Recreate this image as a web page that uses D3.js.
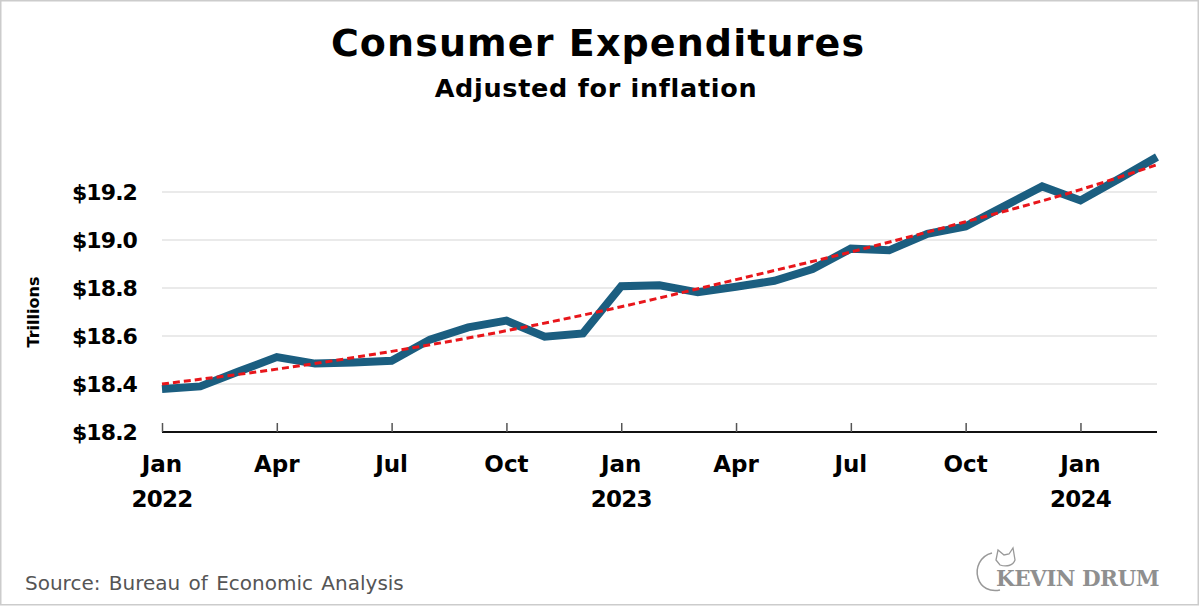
<!DOCTYPE html>
<html><head><meta charset="utf-8">
<script src="https://cdn.jsdelivr.net/npm/d3@7"></script>
<style>
html,body{margin:0;padding:0;background:#fff;}
svg{display:block;}
</style>
</head><body>
<svg id="chart" width="1200" height="606"></svg>
<script>
const months = ["Jan 2022","Feb 2022","Mar 2022","Apr 2022","May 2022","Jun 2022","Jul 2022","Aug 2022","Sep 2022","Oct 2022","Nov 2022","Dec 2022",
"Jan 2023","Feb 2023","Mar 2023","Apr 2023","May 2023","Jun 2023","Jul 2023","Aug 2023","Sep 2023","Oct 2023","Nov 2023","Dec 2023",
"Jan 2024","Feb 2024","Mar 2024"];
const spending = [18.379,18.390,18.452,18.512,18.485,18.490,18.497,18.585,18.636,18.664,18.597,18.611,
18.807,18.811,18.782,18.805,18.830,18.879,18.964,18.957,19.026,19.057,19.140,19.223,
19.165,19.254,19.346];
const trendMonths = ["Jan 2022","Apr 2022","Jul 2022","Oct 2022","Jan 2023","Apr 2023","Jul 2023","Oct 2023","Jan 2024","Mar 2024"];
const trendValues = [18.400,18.462,18.536,18.622,18.722,18.835,18.950,19.076,19.210,19.314];
const yTicks = [18.2,18.4,18.6,18.8,19.0,19.2];
const xTickMonths = ["Jan 2022","Apr 2022","Jul 2022","Oct 2022","Jan 2023","Apr 2023","Jul 2023","Oct 2023","Jan 2024"];
const xTickLabels = ["Jan","Apr","Jul","Oct","Jan","Apr","Jul","Oct","Jan"];
const yearLabels = ["2022","","","","2023","","","","2024"];

const svg = d3.select("#chart");
const W = 1200, H = 606;
const FONT = "'DejaVu Sans', Verdana, sans-serif";

// border
svg.append("rect").attr("x",0.75).attr("y",0.75).attr("width",W-2.5).attr("height",H-2)
  .attr("fill","#fff").attr("stroke","#cccccc").attr("stroke-width",1.5);

const x = d3.scalePoint().domain(months).range([162,1157]);
const y = d3.scaleLinear().domain([18.2,19.4]).range([432,144]);

// gridlines
svg.append("g").selectAll("line").data(yTicks.slice(1)).join("line")
  .attr("x1",162).attr("x2",1157)
  .attr("y1",d=>y(d)).attr("y2",d=>y(d))
  .attr("stroke","#e3e3e3").attr("stroke-width",1.5);

// y labels
svg.append("g").selectAll("text").data(yTicks).join("text")
  .attr("x",137).attr("y",d=>y(d)+8)
  .attr("text-anchor","end")
  .attr("font-family",FONT).attr("font-weight",700)
  .attr("font-size",22).attr("letter-spacing",-0.9).attr("fill","#000")
  .text(d=>"$"+d.toFixed(1));

// y axis title
svg.append("text")
  .attr("transform","translate(39,312) rotate(-90)")
  .attr("text-anchor","middle")
  .attr("font-family",FONT).attr("font-weight",700)
  .attr("font-size",16).attr("fill","#000")
  .text("Trillions");

// x axis
const xAxis = d3.axisBottom(x).tickValues(xTickMonths).tickSize(-9).tickFormat("");
const gx = svg.append("g").attr("transform","translate(0,432)").call(xAxis);
gx.select(".domain").attr("stroke","#111").attr("stroke-width",2).attr("d","M162,0H1157");
gx.selectAll(".tick line").attr("stroke","#555").attr("stroke-width",1.5);

svg.append("g").selectAll("text").data(xTickMonths).join("text")
  .attr("x",d=>x(d)).attr("y",472)
  .attr("text-anchor","middle")
  .attr("font-family",FONT).attr("font-weight",700)
  .attr("font-size",23).attr("fill","#000")
  .text((d,i)=>xTickLabels[i]);
svg.append("g").selectAll("text").data(xTickMonths).join("text")
  .attr("x",d=>x(d)).attr("y",507)
  .attr("text-anchor","middle")
  .attr("font-family",FONT).attr("font-weight",700)
  .attr("font-size",23).attr("letter-spacing",-0.8).attr("fill","#000")
  .text((d,i)=>yearLabels[i]);

// data line
const line = d3.line().x(d=>x(d[0])).y(d=>y(d[1]));
svg.append("path")
  .datum(months.map((m,i)=>[m,spending[i]]))
  .attr("d",line)
  .attr("fill","none").attr("stroke","#1b5e80").attr("stroke-width",8)
  .attr("stroke-linejoin","miter");

// trend line
const trendLine = d3.line().x(d=>x(d[0])).y(d=>y(d[1])).curve(d3.curveMonotoneX);
svg.append("path")
  .datum(trendMonths.map((m,i)=>[m,trendValues[i]]))
  .attr("d",trendLine)
  .attr("fill","none").attr("stroke","#e8161b").attr("stroke-width",3)
  .attr("stroke-dasharray","7,4");

// titles
svg.append("text").attr("x",598).attr("y",56).attr("text-anchor","middle")
  .attr("font-family",FONT).attr("font-weight",700)
  .attr("font-size",38).attr("letter-spacing",1.1).attr("fill","#000").text("Consumer Expenditures");
svg.append("text").attr("x",596).attr("y",97).attr("text-anchor","middle")
  .attr("font-family",FONT).attr("font-weight",700)
  .attr("font-size",25.5).attr("letter-spacing",0.7).attr("fill","#000").text("Adjusted for inflation");

// source
svg.append("text").attr("x",25).attr("y",590)
  .attr("font-family",FONT)
  .attr("font-size",20).attr("fill","#555").attr("word-spacing",2)
  .text("Source: Bureau of Economic Analysis");

// logo
const logo = svg.append("g");
logo.append("path")
  .attr("d","M992,553 C980,556 975,568 978,578 C981,588 990,592 1000,590")
  .attr("fill","none").attr("stroke","#999").attr("stroke-width",1.5);
logo.append("path")
  .attr("d","M996,560 L998,550 L1004,555 L1009,554 L1013,548 L1015,560 C1013,566 1006,567 1000,565 Z")
  .attr("fill","none").attr("stroke","#999").attr("stroke-width",1.3);
logo.append("text").attr("x",996).attr("y",586)
  .attr("font-family","'DejaVu Serif', 'Liberation Serif', serif").attr("font-weight",700)
  .attr("font-size",21.5).attr("fill","#8f8f8f").attr("letter-spacing",-0.5)
  .text("KEVIN DRUM");
</script>
</body></html>
